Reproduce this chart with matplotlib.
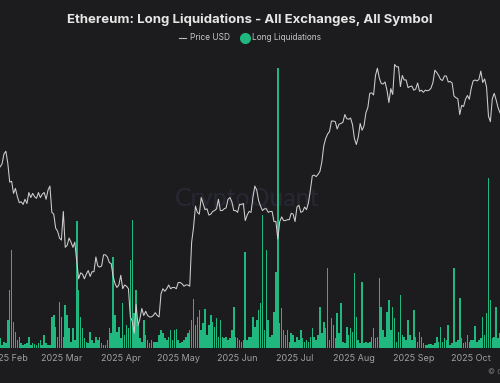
import matplotlib
matplotlib.use('Agg')
import matplotlib.pyplot as plt
from matplotlib.lines import Line2D
from matplotlib.ticker import NullLocator
import pandas as pd

plt.rcParams['font.family'] = ['Inter', 'DejaVu Sans']

# daily data, 2025-01-28 .. 2025-10-16
start_date = '2025-01-28'

price_usd = [
    3070, 3110, 3250, 3290,                                         # Jan
    3120, 2870, 2880, 2730, 2790, 2690, 2620, 2630, 2600, 2660,     # Feb
    2610, 2740, 2680, 2730, 2690, 2670, 2740, 2680, 2720, 2740,
    2660, 2770, 2820, 2510, 2490, 2340, 2310, 2240,
    2220, 2520, 2150, 2170, 2240, 2200, 2150, 2200, 2020, 1870,     # Mar
    1920, 1910, 1870, 1910, 1940, 1890, 1930, 1930, 2060, 1980,
    1970, 1980, 2080, 2080, 2060, 2010, 2000, 1890, 1830, 1800, 1820,
    1900, 1790, 1820, 1810, 1790, 1580, 1550, 1470, 1670, 1520,     # Apr
    1570, 1640, 1590, 1620, 1590, 1580, 1580, 1590, 1610, 1590,
    1580, 1750, 1790, 1770, 1790, 1820, 1790, 1800, 1800, 1790,
    1840, 1840, 1830, 1810, 1820, 1820, 1810, 2200, 2350, 2580,     # May
    2510, 2490, 2680, 2610, 2540, 2550, 2480, 2490, 2520, 2530,
    2550, 2660, 2530, 2530, 2550, 2560, 2660, 2680, 2630, 2530, 2530,
    2510, 2600, 2600, 2610, 2420, 2480, 2520, 2510, 2680, 2820,     # Jun
    2770, 2640, 2580, 2530, 2550, 2550, 2510, 2520, 2520, 2410,
    2410, 2230, 2410, 2460, 2420, 2420, 2430, 2430, 2500, 2490,
    2410, 2570, 2590, 2510, 2520, 2570, 2540, 2620, 2770, 2950,     # Jul
    2960, 2940, 2970, 3010, 3140, 3370, 3480, 3550, 3590, 3760,
    3760, 3750, 3630, 3710, 3720, 3740, 3870, 3800, 3790, 3810, 3700,
    3480, 3390, 3500, 3720, 3610, 3680, 3900, 3990, 4250, 4260,     # Aug
    4220, 4600, 4750, 4550, 4440, 4430, 4470, 4310, 4080, 4340,
    4230, 4830, 4780, 4780, 4380, 4600, 4510, 4510, 4360, 4380, 4390,
    4310, 4330, 4450, 4290, 4310, 4270, 4310, 4300, 4310, 4350,     # Sep
    4460, 4710, 4660, 4600, 4520, 4500, 4590, 4590, 4470, 4480,
    4450, 4200, 4170, 4150, 3870, 4030, 4010, 4140, 4210, 4140,
    4350, 4490, 4510, 4490, 4520, 4690, 4460, 4530, 4370, 3840,     # Oct
    3750, 4150, 4250, 4130, 3990, 3900,
]

# long liquidations, million USD
long_liq = [
    10, 3, 6, 5,                                                    # Jan
    28, 58, 98, 26, 16, 8, 11, 5, 3, 4,                             # Feb
    5, 11, 3, 5, 4, 3, 5, 8, 3, 13,
    5, 3, 3, 31, 33, 21, 11, 46,
    31, 11, 43, 33, 20, 6, 20, 8, 127, 58,                          # Mar
    31, 20, 10, 6, 5, 16, 8, 5, 11, 8,
    11, 5, 3, 3, 8, 20, 15, 91, 33, 16, 21,
    10, 45, 13, 23, 20, 88, 128, 35, 58, 23,                        # Apr
    10, 6, 28, 13, 8, 5, 8, 6, 6, 6,
    13, 18, 15, 10, 8, 11, 18, 8, 18, 19,
    8, 5, 6, 8, 11, 15, 18, 28, 49, 23,                             # May
    31, 38, 18, 25, 39, 13, 23, 33, 26, 21,
    30, 11, 28, 11, 10, 11, 8, 10, 18, 41, 11,
    10, 8, 6, 8, 96, 8, 11, 11, 31, 21,                             # Jun
    28, 38, 45, 133, 18, 98, 28, 11, 13, 36,
    76, 280, 25, 40, 18, 13, 18, 6, 15, 13,
    6, 11, 8, 18, 10, 6, 8, 6, 11, 20,                              # Jul
    11, 8, 13, 41, 15, 26, 20, 80, 8, 30,
    23, 10, 35, 15, 45, 6, 5, 21, 13, 20, 16,
    75, 31, 8, 5, 66, 5, 6, 5, 6, 11,                               # Aug
    20, 10, 11, 70, 41, 18, 11, 36, 48, 18,
    41, 30, 6, 16, 53, 13, 11, 8, 28, 13, 8,
    38, 11, 6, 16, 11, 5, 3, 3, 4, 4,                               # Sep
    3, 5, 11, 6, 21, 6, 10, 8, 23, 3,
    5, 80, 6, 8, 50, 10, 5, 6, 13, 6,
    8, 8, 22, 6, 8, 10, 31, 13, 35, 170,                            # Oct
    48, 10, 11, 41, 10, 15,
]

tick_dates = ['2025-02-01', '2025-03-01', '2025-04-01', '2025-05-01', '2025-06-01',
              '2025-07-01', '2025-08-01', '2025-09-01', '2025-10-01']
tick_labels = ['2025 Feb', '2025 Mar', '2025 Apr', '2025 May', '2025 Jun',
               '2025 Jul', '2025 Aug', '2025 Sep', '2025 Oct']

dates = pd.date_range(start_date, periods=len(price_usd), freq='D')

bg = '#1c1c1e'
green = '#20b87e'

fig = plt.figure(figsize=(5, 3.83), dpi=100, facecolor=bg)
ax = fig.add_axes([0, 0.0914, 1, 0.752])
ax.set_facecolor(bg)

# faint watermark behind the bars
ax.text(0.495, 0.483, 'CryptoQuant', transform=fig.transFigure, fontsize=18,
        color='#282835', ha='center', va='center', zorder=0, family=['Lato', 'DejaVu Sans'])

ax.bar(dates, long_liq, width=0.8, color=green, zorder=2, linewidth=0)
ax.set_ylim(0, 288)
ax.set_yticks([])

ax2 = ax.twinx()
ax2.plot(dates, price_usd, color='#cfcfcf', lw=0.75, zorder=3)
ax2.set_yscale('log')
ax2.set_ylim(1377, 4927)
ax2.yaxis.set_major_locator(NullLocator())
ax2.yaxis.set_minor_locator(NullLocator())

t0 = pd.Timestamp('2025-02-01')
ax.set_xlim(t0 - pd.Timedelta(days=4.07), t0 + pd.Timedelta(days=257.02))
ax.set_xticks(pd.to_datetime(tick_dates))
ax.set_xticklabels(tick_labels)
ax.tick_params(axis='x', length=0, pad=4, labelsize=6.5, colors='#a0a0a0')

for a in (ax, ax2):
    for s in a.spines.values():
        s.set_visible(False)

fig.text(0.5, 0.948, 'Ethereum: Long Liquidations - All Exchanges, All Symbol',
         ha='center', va='center', fontsize=9.5, fontweight='bold', color='#e6e6e6')

handles = [Line2D([], [], color='#bdbdbd', lw=0.8),
           Line2D([], [], marker='o', linestyle='', color=green, markersize=7)]
fig.legend(handles, ['Price USD', 'Long Liquidations'], loc='center',
           bbox_to_anchor=(0.5, 0.901), ncol=2, frameon=False, fontsize=6,
           handlelength=0.9, handletextpad=0.4, columnspacing=1.4, labelcolor='#c8c8c8')

fig.text(0.976, 0.031, '\u00a9 CryptoQuant', fontsize=5.5, color='#7a7a7a',
         ha='left', va='center')

fig.savefig('out.png', dpi=100, facecolor=bg)
